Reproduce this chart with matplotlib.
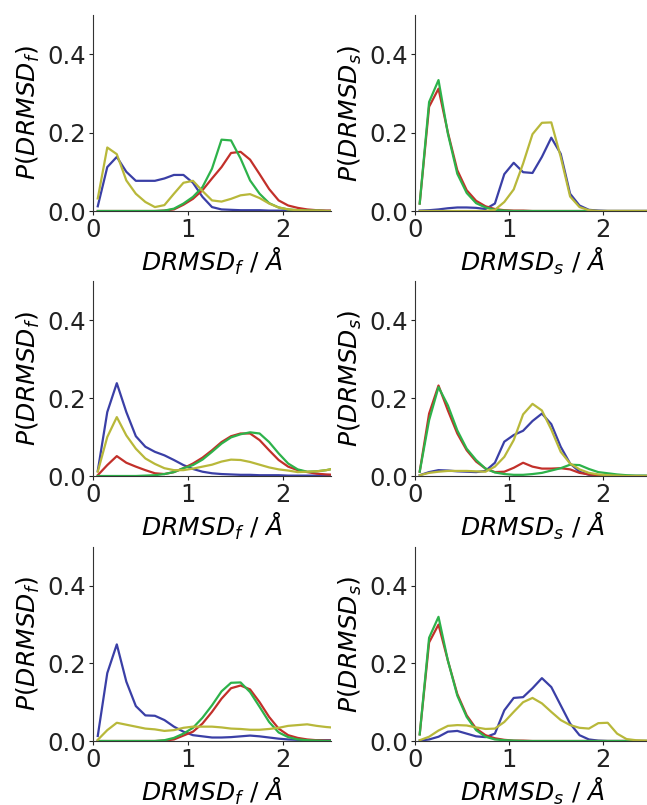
import matplotlib

matplotlib.use("Agg")
import matplotlib.pyplot as plt
import numpy as np

# bin centres, 0.05 .. 2.55 step 0.1
X = [0.05, 0.15, 0.25, 0.35, 0.45, 0.55, 0.65, 0.75, 0.85, 0.95,
     1.05, 1.15, 1.25, 1.35, 1.45, 1.55, 1.65, 1.75, 1.85, 1.95,
     2.05, 2.15, 2.25, 2.35, 2.45, 2.55]

# --- row 1 ---
f1_blue = [0.012, 0.112, 0.138, 0.100, 0.077, 0.077, 0.077, 0.083, 0.092, 0.092,
           0.072, 0.036, 0.010, 0.004, 0.003, 0.002, 0.002, 0.002, 0.001, 0.001,
           0.001, 0.0, 0.0, 0.0, 0.0, 0.0]
f1_red = [0.0, 0.0, 0.0, 0.0, 0.0, 0.0, 0.0, 0.001, 0.004, 0.016,
          0.031, 0.053, 0.083, 0.112, 0.148, 0.151, 0.131, 0.094, 0.056, 0.027,
          0.014, 0.008, 0.004, 0.002, 0.001, 0.001]
f1_green = [0.0, 0.0, 0.0, 0.0, 0.0, 0.0, 0.0, 0.001, 0.006, 0.019,
            0.036, 0.061, 0.108, 0.182, 0.180, 0.134, 0.078, 0.044, 0.020, 0.009,
            0.004, 0.002, 0.001, 0.001, 0.0, 0.0]
f1_yellow = [0.032, 0.162, 0.145, 0.078, 0.044, 0.023, 0.010, 0.015, 0.044, 0.072,
             0.077, 0.051, 0.027, 0.024, 0.031, 0.040, 0.043, 0.033, 0.019, 0.009,
             0.004, 0.002, 0.001, 0.001, 0.0, 0.0]

s1_blue = [0.001, 0.002, 0.004, 0.007, 0.009, 0.009, 0.008, 0.005, 0.019, 0.094,
           0.123, 0.099, 0.097, 0.138, 0.187, 0.146, 0.044, 0.014, 0.003, 0.001,
           0.0, 0.0, 0.0, 0.0, 0.0, 0.0]
s1_red = [0.019, 0.266, 0.312, 0.200, 0.104, 0.053, 0.026, 0.012, 0.005, 0.002,
          0.001, 0.001, 0.0, 0.0, 0.0, 0.0, 0.0, 0.0, 0.0, 0.0,
          0.0, 0.0, 0.0, 0.0, 0.0, 0.0]
s1_green = [0.019, 0.278, 0.334, 0.197, 0.095, 0.046, 0.020, 0.009, 0.003, 0.001,
            0.0, 0.0, 0.0, 0.0, 0.0, 0.0, 0.0, 0.0, 0.0, 0.0,
            0.0, 0.0, 0.0, 0.0, 0.0, 0.0]
s1_yellow = [0.0, 0.0, 0.0, 0.0, 0.0, 0.0, 0.0, 0.0, 0.003, 0.023,
             0.055, 0.121, 0.196, 0.225, 0.226, 0.138, 0.037, 0.010, 0.002, 0.0,
             0.0, 0.0, 0.0, 0.0, 0.0, 0.0]

# --- row 2 ---
f2_blue = [0.013, 0.164, 0.238, 0.164, 0.102, 0.075, 0.062, 0.053, 0.041, 0.028,
           0.018, 0.011, 0.007, 0.005, 0.004, 0.003, 0.003, 0.002, 0.002, 0.002,
           0.001, 0.001, 0.001, 0.001, 0.001, 0.001]
f2_red = [0.002, 0.028, 0.051, 0.034, 0.024, 0.015, 0.007, 0.005, 0.010, 0.020,
          0.032, 0.047, 0.066, 0.087, 0.102, 0.109, 0.109, 0.092, 0.066, 0.041,
          0.024, 0.015, 0.010, 0.006, 0.004, 0.003]
f2_green = [0.0, 0.0, 0.0, 0.0, 0.0, 0.001, 0.002, 0.005, 0.010, 0.020,
            0.028, 0.042, 0.062, 0.083, 0.099, 0.107, 0.112, 0.109, 0.087, 0.058,
            0.032, 0.017, 0.011, 0.012, 0.015, 0.020]
f2_yellow = [0.011, 0.100, 0.151, 0.104, 0.070, 0.045, 0.031, 0.020, 0.015, 0.015,
             0.019, 0.024, 0.029, 0.037, 0.042, 0.041, 0.036, 0.029, 0.022, 0.017,
             0.014, 0.010, 0.011, 0.012, 0.015, 0.020]

s2_blue = [0.002, 0.010, 0.015, 0.014, 0.012, 0.011, 0.010, 0.013, 0.034, 0.088,
           0.105, 0.116, 0.141, 0.160, 0.133, 0.075, 0.032, 0.011, 0.003, 0.001,
           0.0, 0.0, 0.0, 0.0, 0.0, 0.0]
s2_red = [0.011, 0.160, 0.232, 0.168, 0.109, 0.066, 0.037, 0.019, 0.010, 0.011,
          0.021, 0.034, 0.024, 0.019, 0.019, 0.020, 0.017, 0.008, 0.004, 0.002,
          0.001, 0.001, 0.0, 0.0, 0.0, 0.0]
s2_green = [0.011, 0.143, 0.228, 0.181, 0.117, 0.070, 0.041, 0.019, 0.009, 0.005,
            0.003, 0.003, 0.005, 0.008, 0.014, 0.020, 0.029, 0.028, 0.018, 0.010,
            0.007, 0.004, 0.002, 0.001, 0.001, 0.0]
s2_yellow = [0.002, 0.008, 0.011, 0.013, 0.013, 0.013, 0.012, 0.011, 0.024, 0.049,
             0.092, 0.158, 0.185, 0.168, 0.119, 0.062, 0.032, 0.017, 0.008, 0.004,
             0.002, 0.001, 0.0, 0.0, 0.0, 0.0]

# --- row 3 ---
f3_blue = [0.013, 0.175, 0.249, 0.153, 0.090, 0.066, 0.065, 0.054, 0.037, 0.024,
           0.015, 0.012, 0.009, 0.009, 0.010, 0.012, 0.014, 0.012, 0.009, 0.006,
           0.004, 0.003, 0.002, 0.002, 0.002, 0.002]
f3_red = [0.0, 0.0, 0.0, 0.0, 0.0, 0.0, 0.0, 0.001, 0.004, 0.014,
          0.024, 0.045, 0.075, 0.109, 0.136, 0.143, 0.133, 0.100, 0.062, 0.032,
          0.015, 0.008, 0.004, 0.002, 0.001, 0.001]
f3_green = [0.0, 0.0, 0.0, 0.0, 0.0, 0.0, 0.0, 0.002, 0.008, 0.019,
            0.034, 0.060, 0.092, 0.128, 0.150, 0.151, 0.126, 0.088, 0.049, 0.022,
            0.010, 0.004, 0.002, 0.001, 0.0, 0.0]
f3_yellow = [0.003, 0.028, 0.047, 0.042, 0.037, 0.032, 0.030, 0.026, 0.028, 0.034,
             0.037, 0.037, 0.037, 0.035, 0.032, 0.031, 0.029, 0.029, 0.031, 0.034,
             0.039, 0.041, 0.043, 0.039, 0.036, 0.034]

s3_blue = [0.001, 0.004, 0.011, 0.024, 0.026, 0.019, 0.012, 0.010, 0.019, 0.079,
           0.111, 0.113, 0.136, 0.162, 0.139, 0.092, 0.045, 0.015, 0.004, 0.001,
           0.0, 0.0, 0.0, 0.0, 0.0, 0.0]
s3_red = [0.017, 0.254, 0.300, 0.207, 0.121, 0.066, 0.032, 0.015, 0.007, 0.003,
          0.001, 0.001, 0.0, 0.0, 0.0, 0.0, 0.0, 0.0, 0.0, 0.0,
          0.0, 0.0, 0.0, 0.0, 0.0, 0.0]
s3_green = [0.017, 0.266, 0.320, 0.207, 0.117, 0.062, 0.028, 0.011, 0.004, 0.002,
            0.001, 0.0, 0.0, 0.0, 0.0, 0.0, 0.0, 0.0, 0.0, 0.0,
            0.0, 0.0, 0.0, 0.0, 0.0, 0.0]
s3_yellow = [0.002, 0.011, 0.027, 0.039, 0.041, 0.040, 0.035, 0.031, 0.032, 0.049,
             0.075, 0.100, 0.111, 0.097, 0.075, 0.054, 0.041, 0.034, 0.032, 0.046,
             0.047, 0.019, 0.005, 0.002, 0.001, 0.0]

PANELS = [
    ("f", [f1_blue, f1_red, f1_green, f1_yellow]),
    ("s", [s1_blue, s1_red, s1_green, s1_yellow]),
    ("f", [f2_blue, f2_red, f2_green, f2_yellow]),
    ("s", [s2_blue, s2_red, s2_green, s2_yellow]),
    ("f", [f3_blue, f3_red, f3_green, f3_yellow]),
    ("s", [s3_blue, s3_red, s3_green, s3_yellow]),
]
COLORS = ["#3a3fa6", "#c2302a", "#2db24a", "#b8b83a"]

W, H = 647, 805
fig = plt.figure(figsize=(W / 100, H / 100), dpi=100)

# axes boxes in pixels: left, right, top, bottom
LEFTS = [(93, 331), (415, 650)]
ROWS = [(15, 211), (281, 476), (547, 741)]

for i, (sub, series) in enumerate(PANELS):
    (l, r), (t, b) = LEFTS[i % 2], ROWS[i // 2]
    ax = fig.add_axes([l / W, 1 - b / H, (r - l) / W, (b - t) / H])
    for ys, c in zip(series, COLORS):
        ax.plot(X, ys, color=c, lw=1.6)
    ax.set_xlim(0, 2.5)
    ax.set_ylim(0, 0.5)
    ax.set_xticks([0, 1, 2])
    ax.set_yticks([0.0, 0.2, 0.4])
    ax.set_yticklabels(["0.0", "0.2", "0.4"])
    ax.tick_params(labelsize=17.5, length=3, width=0.8, colors="#222222", pad=2)
    for side in ("top", "right"):
        ax.spines[side].set_visible(False)
    for side in ("left", "bottom"):
        ax.spines[side].set_linewidth(0.8)
        ax.spines[side].set_color("#333333")
    ax.set_xlabel(rf"$DRMSD_{sub}\ /\ Å$", fontsize=18, labelpad=3)
    ax.set_ylabel(rf"$P(DRMSD_{sub})$", fontsize=18, labelpad=4)

fig.savefig("out.png", dpi=100)
